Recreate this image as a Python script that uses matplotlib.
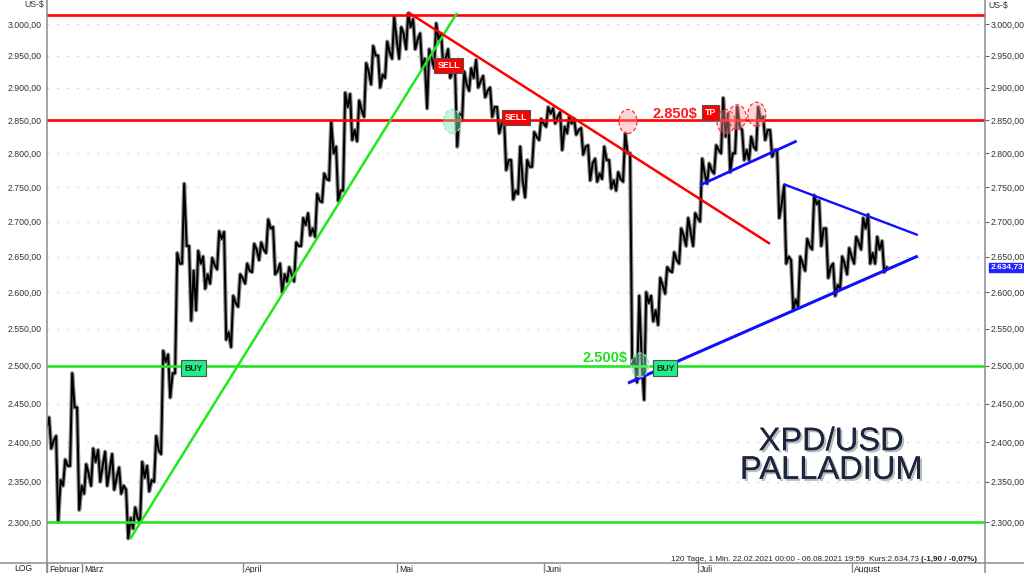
import numpy as np
import matplotlib
matplotlib.use("Agg")
import matplotlib.pyplot as plt
from matplotlib.patches import Ellipse
from matplotlib.lines import Line2D
from matplotlib import transforms, patheffects
from matplotlib.ticker import FixedLocator, FuncFormatter, NullLocator

plt.rcParams['font.family'] = ['Liberation Sans', 'DejaVu Sans']

# Tagesdaten XPD/USD, 22.02.2021 - 06.08.2021 (Handelstage, Index 0..119)
open0 = 2420
highs = [2432, 2408, 2378, 2490, 2445, 2372, 2392, 2390, 2388, 2385,
         2368, 2340, 2318, 2375, 2370, 2408, 2520, 2515, 2655, 2755,
         2665, 2658, 2650, 2648, 2686, 2685, 2595, 2625, 2640, 2668,
         2670, 2703, 2692, 2640, 2635, 2670, 2705, 2712, 2740, 2770,
         2848, 2810, 2892, 2890, 2880, 2938, 2965, 2950, 2972, 3011,
         2995, 3017, 3008, 2985, 2960, 3001, 2985, 2960, 2925, 2925,
         2930, 2943, 2918, 2900, 2870, 2850, 2790, 2810, 2790, 2832,
         2852, 2870, 2868, 2862, 2855, 2852, 2838, 2812, 2792, 2810,
         2790, 2772, 2830, 2800, 2595, 2600, 2595, 2620, 2635, 2656,
         2690, 2705, 2712, 2792, 2785, 2812, 2884, 2860, 2870, 2835,
         2825, 2870, 2855, 2835, 2805, 2752, 2645, 2650, 2675, 2738,
         2730, 2690, 2640, 2650, 2662, 2678, 2705, 2710, 2678, 2672]
lows = [2392, 2300, 2345, 2370, 2315, 2335, 2345, 2350, 2345, 2340,
        2335, 2280, 2292, 2300, 2338, 2350, 2385, 2458, 2490, 2640,
        2561, 2575, 2605, 2612, 2632, 2535, 2525, 2580, 2612, 2628,
        2645, 2655, 2625, 2600, 2615, 2615, 2665, 2680, 2678, 2728,
        2760, 2730, 2745, 2820, 2818, 2855, 2905, 2900, 2915, 2945,
        2945, 2960, 2960, 2930, 2868, 2930, 2935, 2915, 2810, 2850,
        2895, 2900, 2885, 2855, 2830, 2775, 2732, 2740, 2735, 2780,
        2820, 2840, 2845, 2805, 2830, 2828, 2798, 2760, 2758, 2762,
        2748, 2745, 2758, 2500, 2478, 2455, 2560, 2555, 2598, 2628,
        2640, 2665, 2665, 2700, 2755, 2770, 2800, 2772, 2800, 2790,
        2790, 2805, 2820, 2795, 2705, 2640, 2575, 2580, 2630, 2660,
        2665, 2620, 2595, 2605, 2625, 2640, 2660, 2640, 2640, 2628]
closes = [2402, 2352, 2370, 2445, 2345, 2360, 2375, 2370, 2365, 2355,
          2345, 2305, 2305, 2355, 2352, 2390, 2505, 2490, 2640, 2665,
          2630, 2640, 2625, 2638, 2675, 2545, 2585, 2620, 2630, 2660,
          2660, 2690, 2630, 2625, 2625, 2665, 2695, 2690, 2730, 2762,
          2800, 2745, 2870, 2835, 2865, 2925, 2950, 2920, 2955, 2975,
          2985, 2995, 2975, 2945, 2945, 2975, 2945, 2925, 2860, 2905,
          2915, 2910, 2895, 2870, 2845, 2790, 2745, 2760, 2780, 2825,
          2845, 2860, 2855, 2840, 2845, 2835, 2810, 2785, 2770, 2790,
          2760, 2762, 2800, 2510, 2510, 2585, 2575, 2610, 2630, 2645,
          2680, 2685, 2705, 2770, 2775, 2805, 2825, 2800, 2840, 2805,
          2810, 2850, 2835, 2805, 2725, 2650, 2590, 2640, 2665, 2725,
          2690, 2635, 2610, 2640, 2650, 2670, 2690, 2655, 2660, 2634.73]

months = ["Februar", "März", "April", "Mai", "Juni", "Juli", "August"]
month_idx = [0, 5, 28, 50, 71, 93, 115]
yticks = list(range(2300, 3001, 50))

red_levels = [3015, 2850]
green_levels = [2500, 2300]

# Trendlinien (Tag, Kurs) -> (Tag, Kurs)
green_trend = [(11.86, 2279), (58.57, 3017.7)]
red_trend = [(51.57, 3019), (103.29, 2668)]
blue_lower = [(83.0, 2477), (124.4, 2650.7)]
blue_july = [(93.3, 2753), (107.1, 2818.5)]
blue_upper = [(105.2, 2754.5), (124.4, 2680.6)]

buy_tags = [(20.9, 2497), (88.3, 2497)]
sell_tags = [(57.4, 2934), (67.0, 2854)]
tp_tag = (94.8, 2862)
red_rings = [(83.0, 2848), (97.0, 2848), (98.6, 2855), (101.4, 2859)]
green_rings = [(57.9, 2848), (84.7, 2501)]


def de_fmt(v):
    s = f"{v:,.2f}"
    return s.replace(",", "X").replace(".", ",").replace("X", ".")


fig = plt.figure(figsize=(10.24, 5.73), dpi=100)
ax = fig.add_axes([47 / 1024, 10 / 573, 938 / 1024, 563 / 573])
ax.set_yscale('log')
ax.set_ylim(2250.3, 3038.7)
ax.set_xlim(0, 134)
for s in ax.spines.values():
    s.set_visible(False)

# Kursverlauf: O -> L/H -> H/L -> C je Tag
xs, ys = [0.0], [open0]
prev = open0
for i, (h, l, c) in enumerate(zip(highs, lows, closes)):
    a, b = (l, h) if c >= prev else (h, l)
    xs += [i + 0.3, i + 0.6, i + 0.95]
    ys += [a, b, c]
    prev = c
ax.plot(xs, ys, color='#8a8a8a', lw=3.0, zorder=2)
ax.plot(xs, ys, color='black', lw=1.4, zorder=3)

for lvl in red_levels:
    ax.axhline(lvl, color='#ff0000', lw=1.9, zorder=5)
for lvl in green_levels:
    ax.axhline(lvl, color='#1fe81f', lw=1.9, zorder=5)

for pts, col, lw in [(green_trend, '#1fe81f', 1.8), (red_trend, '#ff0000', 1.8),
                     (blue_lower, '#1010ff', 2.2), (blue_july, '#1010ff', 2.0),
                     (blue_upper, '#1010ff', 1.7)]:
    ax.plot([p[0] for p in pts], [p[1] for p in pts], color=col, lw=lw, zorder=5,
            solid_capstyle='butt')


def ring(x, y, fc, ec, rx=9, ry=12):
    tr = transforms.Affine2D().scale(rx, ry) + transforms.ScaledTranslation(x, y, ax.transData)
    ax.add_patch(Ellipse((0, 0), 2, 2, transform=tr, fc=fc, ec=ec, lw=0.9,
                         ls=(0, (3, 2)), zorder=6))


for x, y in red_rings:
    ring(x, y, (1.0, 0.6, 0.6, 0.4), '#ff3030')
for x, y in green_rings:
    ring(x, y, (0.5, 0.93, 0.7, 0.45), '#a0e8c0')


def tag(x, y, s, fc, tc):
    ax.text(x, y, s, ha='center', va='center', fontsize=6.3, color=tc, fontweight='bold',
            zorder=8, bbox=dict(boxstyle='square,pad=0.35', fc=fc, ec='#505050', lw=0.8))


for x, y in buy_tags:
    tag(x, y, "BUY", '#22ee88', '#10301c')
for x, y in sell_tags:
    tag(x, y, "SELL", '#ff0000', 'white')
tag(tp_tag[0], tp_tag[1], "TP", '#ff0000', 'white')

ax.text(92.9, 2860, "2.850$", ha='right', va='center', fontsize=10.5, fontweight='bold',
        color='#ff1a1a', zorder=8)
ax.text(82.9, 2510, "2.500$", ha='right', va='center', fontsize=10.5, fontweight='bold',
        color='#22dd22', zorder=8)

# Achsen
ax.yaxis.set_major_locator(FixedLocator(yticks))
ax.yaxis.set_minor_locator(NullLocator())
ax.yaxis.set_major_formatter(FuncFormatter(lambda v, p: de_fmt(v)))
ax.yaxis.set_minor_formatter(FuncFormatter(lambda v, p: ""))
ax.tick_params(axis='y', which='major', left=False, right=True, labelleft=True,
               labelright=True, labelsize=6.3, labelcolor='#333333', length=3,
               color='#666666', pad=1)
ax.grid(True, axis='y', color='#b0b0b0', lw=0.8, linestyle=(0, (1, 8)))
ax.set_xticks(month_idx)
ax.set_xticklabels([])
ax.tick_params(axis='x', length=7.5, direction='out', color='#888888', width=1)
for name, idx in zip(months, month_idx):
    ax.annotate(name, xy=(idx, 0), xycoords=('data', 'axes fraction'), xytext=(1.5, -1.2),
                textcoords='offset points', ha='left', va='top', fontsize=6.2, color='#222222',
                annotation_clip=False)

last = closes[-1]
ax.annotate(de_fmt(last), xy=(1, last), xycoords=('axes fraction', 'data'), xytext=(3.8, 0),
            textcoords='offset points', ha='left', va='center', fontsize=6.0, color='white',
            fontweight='bold', annotation_clip=False,
            bbox=dict(boxstyle='square,pad=0.15', fc='#2323ff', ec='#2323ff'))

# Rahmenlinien
fig.add_artist(Line2D([0, 1], [10 / 573, 10 / 573], color='#8c8c8c', lw=1.1))
fig.add_artist(Line2D([47 / 1024, 47 / 1024], [0, 1], color='#8c8c8c', lw=1.1))
fig.add_artist(Line2D([985 / 1024, 985 / 1024], [0, 1], color='#8c8c8c', lw=1.1))

fig.text(44 / 1024, 1 - 0.5 / 573, "US-$", ha='right', va='top', fontsize=6.3, color='#333333')
fig.text(988 / 1024, 1 - 1 / 573, "US-$", ha='left', va='top', fontsize=6.3, color='#333333')
fig.text(14 / 1024, 1 - 564 / 573, "LOG", ha='left', va='top', fontsize=6.2, color='#222222')

shadow = [patheffects.withSimplePatchShadow(offset=(1.5, -1.5), shadow_rgbFace='#505050', alpha=0.4),
          patheffects.Normal()]
fig.text(831 / 1024, 1 - 456 / 573, "XPD/USD\nPALLADIUM", ha='center', va='center',
         multialignment='center', linespacing=0.9, fontsize=23.5,
         color='#1b2540', path_effects=shadow)

# Infozeile unten
fig.canvas.draw()
bold = fig.text(977 / 1024, 1 - 561 / 573, "(-1,90 / -0,07%)", ha='right', va='baseline',
                fontsize=5.8, fontweight='bold', color='#222222')
bb = bold.get_window_extent(fig.canvas.get_renderer())
fig.text(bb.x0 / 1024 - 2 / 1024, 1 - 561 / 573,
         "120 Tage, 1 Min. 22.02.2021 00:00 - 06.08.2021 19:59  Kurs:2.634,73",
         ha='right', va='baseline', fontsize=5.8, color='#222222')

fig.savefig("out.png", dpi=100)
